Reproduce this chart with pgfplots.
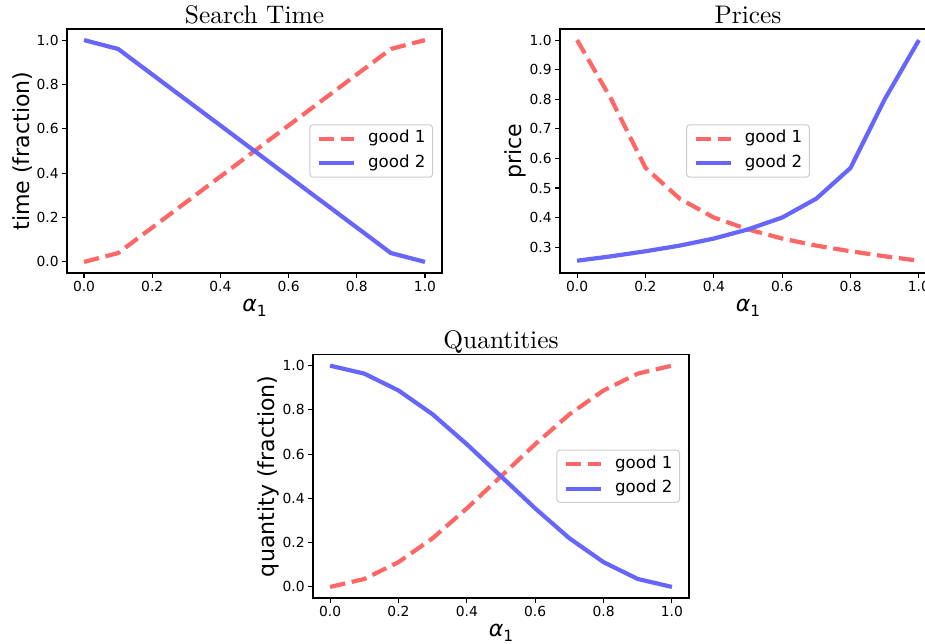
\documentclass[border=0pt]{standalone}
\usepackage{pgfplots}
\pgfplotsset{compat=1.18}
\usepackage{fontspec}
\newfontfamily\dejavu{DejaVu Sans}
\newfontfamily\cmten{lmroman10-regular}[Extension=.otf]
\definecolor{mred}{HTML}{FF6666}
\definecolor{mblue}{HTML}{6666FF}
\pgfplotsset{
 mpl/.style={
  scale only axis, width=375bp, height=244bp,
  xmin=-0.05, xmax=1.05,
  xtick={0,0.2,0.4,0.6,0.8,1},
  axis line style={line width=1.1bp, black},
  every tick/.style={line width=1.1bp, black},
  major tick length=4.9bp,
  tick align=outside,
  tick pos=left,
  /pgf/number format/fixed,
  /pgf/number format/fixed zerofill,
  /pgf/number format/precision=1,
  /pgf/number format/assume math mode=true,
  tick label style={font=\dejavu\fontsize{13.9}{14}\selectfont},
  label style={font=\dejavu\fontsize{22.2}{24}\selectfont},
  ylabel shift=-3bp,
  xlabel={\textit{α}\raisebox{-0.25em}{\fontsize{15.5}{16}\selectfont 1}},
  title style={font=\cmten\fontsize{25.5}{28}\selectfont, at={(0.5,1)}, anchor=base, yshift=0bp},
  legend cell align=left,
  legend style={draw=black!20, line width=1bp, rounded corners=3bp, fill=white, fill opacity=0.8, text opacity=1,
    font=\dejavu\fontsize{16.7}{18}\selectfont, inner xsep=7bp, inner ysep=4bp, row sep=5bp,
    nodes={inner xsep=0bp, inner ysep=2bp, text height=12.2bp, text depth=3.5bp},
    /tikz/every odd column/.append style={column sep=12bp}},
  legend image code/.code={\draw[##1] (0bp,0bp) -- (35bp,0bp);},
 },
 g1/.style={mred, line width=4.2bp, dash pattern=on 15.4bp off 6.7bp},
 g2/.style={mblue, line width=4.2bp},
}
\begin{document}
\begin{tikzpicture}
% Search Time
\begin{axis}[mpl, at={(67bp,371bp)}, anchor=south west,
  ymin=-0.05, ymax=1.05, ytick={0,0.2,0.4,0.6,0.8,1},
  title={Search Time}, ylabel={time (fraction)},
  legend style={at={(1,0.5)}, anchor=east, xshift=-9bp}]
\addplot[g1] coordinates {(0,0)(0.1,0.04)(0.2,0.155)(0.3,0.27)(0.4,0.385)(0.5,0.5)(0.6,0.615)(0.7,0.73)(0.8,0.845)(0.9,0.96)(1,1)};
\addlegendentry{good 1}
\addplot[g2] coordinates {(0,1)(0.1,0.96)(0.2,0.845)(0.3,0.73)(0.4,0.615)(0.5,0.5)(0.6,0.385)(0.7,0.27)(0.8,0.155)(0.9,0.04)(1,0)};
\addlegendentry{good 2}
\end{axis}
% Prices
\begin{axis}[mpl, at={(560bp,371bp)}, anchor=south west, width=376bp,
  ymin=0.2125, ymax=1.0375, ytick={0.3,0.4,0.5,0.6,0.7,0.8,0.9,1},
  title={Prices}, ylabel={price},
  legend style={at={(0.5,0.5)}, anchor=center}]
\addplot[g1] coordinates {(0,1)(0.1,0.80)(0.2,0.568)(0.3,0.464)(0.4,0.40)(0.5,0.36)(0.6,0.329)(0.7,0.305)(0.8,0.286)(0.9,0.269)(1,0.254)};
\addlegendentry{good 1}
\addplot[g2] coordinates {(0,0.254)(0.1,0.269)(0.2,0.286)(0.3,0.305)(0.4,0.329)(0.5,0.36)(0.6,0.40)(0.7,0.464)(0.8,0.568)(0.9,0.80)(1,1)};
\addlegendentry{good 2}
\end{axis}
% Quantities
\begin{axis}[mpl, at={(313bp,46bp)}, anchor=south west, width=376bp, height=243.4bp,
  ymin=-0.05, ymax=1.05, ytick={0,0.2,0.4,0.6,0.8,1},
  title={Quantities}, ylabel={quantity (fraction)},
  legend style={at={(1,0.5)}, anchor=east, xshift=-9bp}]
\addplot[g1] coordinates {(0,0)(0.1,0.036)(0.2,0.112)(0.3,0.22)(0.4,0.355)(0.5,0.5)(0.6,0.645)(0.7,0.78)(0.8,0.888)(0.9,0.964)(1,1)};
\addlegendentry{good 1}
\addplot[g2] coordinates {(0,1)(0.1,0.964)(0.2,0.888)(0.3,0.78)(0.4,0.645)(0.5,0.5)(0.6,0.355)(0.7,0.22)(0.8,0.112)(0.9,0.036)(1,0)};
\addlegendentry{good 2}
\end{axis}
\pgfresetboundingbox
\useasboundingbox (0bp,0bp) rectangle (925bp,644bp);
\end{tikzpicture}
\end{document}
